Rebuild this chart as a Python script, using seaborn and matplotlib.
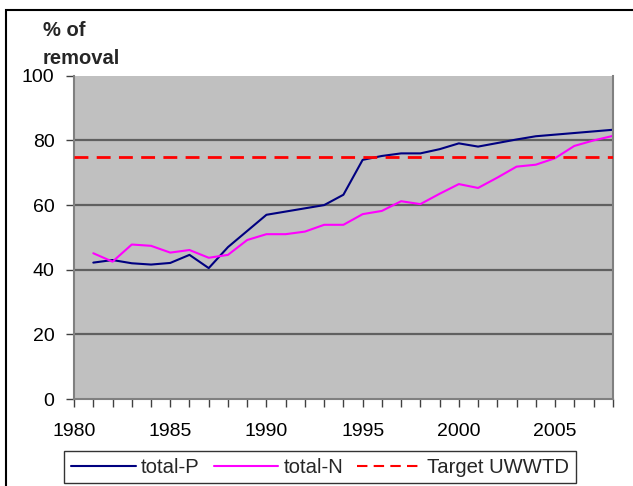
import matplotlib
matplotlib.use("Agg")
import matplotlib.pyplot as plt
import matplotlib.patches as mpatches
from matplotlib.lines import Line2D
from matplotlib.ticker import MultipleLocator
import pandas as pd
import seaborn as sns

years = list(range(1981, 2009))
total_p = [42.2, 43.0, 42.0, 41.6, 42.1, 44.6, 40.5, 47.0, 52.0, 57.0,
           58.0, 59.0, 60.0, 63.2, 74.0, 75.2, 76.0, 76.0, 77.3, 79.1,
           78.1, 79.2, 80.3, 81.3, 81.8, 82.3, 82.8, 83.3]
total_n = [45.1, 42.5, 47.8, 47.4, 45.3, 46.1, 43.7, 44.6, 49.2, 51.0,
           51.0, 51.8, 53.9, 53.9, 57.2, 58.2, 61.2, 60.3, 63.5, 66.5,
           65.3, 68.5, 71.9, 72.5, 74.5, 78.3, 80.0, 81.4]
target = 75
series_names = ["total-P", "total-N"]
target_name = "Target UWWTD"
y_title = "% of\nremoval"

df = pd.DataFrame({
    "year": years * 2,
    "value": total_p + total_n,
    "series": [series_names[0]] * len(years) + [series_names[1]] * len(years),
})

sns.set_theme(style="white")
plt.rcParams["font.family"] = ["Liberation Sans", "DejaVu Sans"]

colors = {"total-P": "#000080", "total-N": "#FF00FF"}

fig = plt.figure(figsize=(6.33, 4.86), dpi=100)
ax = fig.add_axes([0.117, 0.179, 0.851, 0.665])
ax.set_facecolor("#C0C0C0")

sns.lineplot(data=df, x="year", y="value", hue="series", palette=colors,
             linewidth=1.5, ax=ax, legend=False)
ax.axhline(target, color="#FF0000", linewidth=2, linestyle=(0, (5, 3)), zorder=3)

ax.set_xlim(1980, 2008)
ax.set_ylim(0, 100)
ax.xaxis.set_minor_locator(MultipleLocator(1))
ax.set_yticks([0, 20, 40, 60, 80, 100])
ax.set_xticks([1980, 1985, 1990, 1995, 2000, 2005])

for v in [20, 40, 60, 80]:
    ax.axhline(v, color="#606060", linewidth=1.6, zorder=1)

for side in ["left", "bottom", "right"]:
    ax.spines[side].set_visible(True)
    ax.spines[side].set_color("#808080")
    ax.spines[side].set_linewidth(1.5)
ax.spines["top"].set_visible(False)

ax.tick_params(axis="both", which="both", direction="out", color="#404040",
               width=1.0, labelsize=14, labelcolor="black")
ax.tick_params(axis="x", which="major", length=6, pad=11, bottom=True)
ax.tick_params(axis="x", which="minor", length=6, bottom=True)
ax.tick_params(axis="y", which="major", length=6, left=True, pad=8)
ax.set_xlabel("")
ax.set_ylabel("")

fig.text(0.068, 0.957, y_title, fontsize=14.5, fontweight="bold",
         ha="left", va="top", linespacing=1.6)

handles = [
    Line2D([0], [0], color=colors["total-P"], linewidth=1.5),
    Line2D([0], [0], color=colors["total-N"], linewidth=1.5),
    Line2D([0], [0], color="#FF0000", linewidth=1.5, linestyle=(0, (5, 3))),
]
leg = fig.legend(handles, series_names + [target_name], ncol=3,
                 loc="upper left", bbox_to_anchor=(0.101, 0.072),
                 frameon=True, fancybox=False, fontsize=14.6,
                 handlelength=3.2, handletextpad=0.25, columnspacing=0.7,
                 borderpad=0.33, borderaxespad=0.0)
leg.get_frame().set_edgecolor("black")
leg.get_frame().set_linewidth(1.0)

# outer chart frame
fig.add_artist(mpatches.Rectangle((6 / 633, -0.05), 1.2, 1.05 - 10 / 486,
                                  transform=fig.transFigure, fill=False,
                                  edgecolor="black", linewidth=1.5))

fig.savefig("out.png", dpi=100, facecolor="white")
